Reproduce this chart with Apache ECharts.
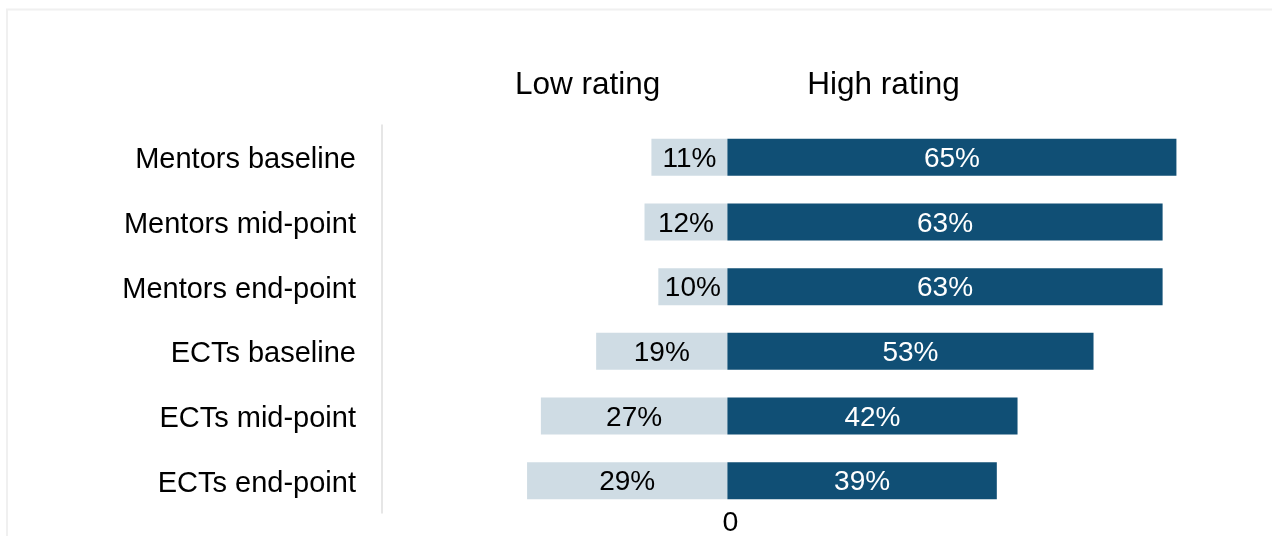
<!DOCTYPE html>
<html>
<head>
<meta charset="utf-8">
<script src="https://cdn.jsdelivr.net/npm/echarts@6/dist/echarts.min.js"></script>
<style>
html,body{margin:0;padding:0;background:#fff;}
#c{width:1272px;height:536px;}
</style>
</head>
<body>
<div id="c"></div>
<script>
const categories = ['Mentors baseline','Mentors mid-point','Mentors end-point','ECTs baseline','ECTs mid-point','ECTs end-point'];
const lowRating = [11, 12, 10, 19, 27, 29];
const highRating = [65, 63, 63, 53, 42, 39];
const seriesNames = ['Low rating','High rating'];

const FONT = '"Liberation Sans", Arial, sans-serif';
const chart = echarts.init(document.getElementById('c'));
chart.setOption({
  animation: false,
  textStyle: { fontFamily: FONT },
  graphic: [{
    type: 'rect', silent: true, z: -1,
    shape: { x: 7, y: 9.5, width: 1300, height: 600 },
    style: { fill: 'none', stroke: '#f0f0f0', lineWidth: 2 }
  }],
  legend: {
    data: seriesNames,
    left: 510, top: 69,
    padding: 0,
    itemWidth: 0, itemHeight: 0, itemGap: 142,
    icon: 'rect',
    textStyle: { fontSize: 31.5, color: '#000', fontFamily: FONT }
  },
  grid: { left: 382, right: 26.5, top: 125, bottom: 23, containLabel: false, outerBoundsMode: 'none' },
  xAxis: {
    type: 'value', min: -50, max: 75, interval: 25,
    axisLine: { show: false }, axisTick: { show: false }, splitLine: { show: false },
    axisLabel: {
      margin: -4, fontSize: 28.5, color: '#000', fontFamily: FONT,
      padding: [0, 0, 0, 6],
      formatter: v => (v === 0 ? '0' : '')
    }
  },
  yAxis: {
    type: 'category', data: categories, inverse: true,
    axisLine: { show: true, onZero: false, lineStyle: { color: '#dedede', width: 1.5 } },
    axisTick: { show: false },
    axisLabel: {
      margin: 26, fontSize: 29, color: '#000', fontFamily: FONT,
      formatter: v => '{c|' + v + '}',
      rich: { c: { fontSize: 29, color: '#000', fontFamily: FONT, padding: [6, 0, 0, 0] } }
    }
  },
  series: [
    {
      name: seriesNames[0], type: 'bar', stack: 'r', barWidth: 37,
      data: lowRating.map(v => -v),
      itemStyle: { color: '#cfdce4' },
      label: { show: true, position: 'inside',
        formatter: p => '{v|' + Math.abs(p.value) + '%}',
        rich: { v: { color: '#000', fontSize: 28, fontFamily: FONT, padding: [4, 0, 0, 0] } } }
    },
    {
      name: seriesNames[1], type: 'bar', stack: 'r', barWidth: 37,
      data: highRating,
      itemStyle: { color: '#104f75' },
      label: { show: true, position: 'inside',
        formatter: p => '{v|' + p.value + '%}',
        rich: { v: { color: '#fff', fontSize: 28, fontFamily: FONT, padding: [4, 0, 0, 0] } } }
    }
  ]
});
</script>
</body>
</html>
